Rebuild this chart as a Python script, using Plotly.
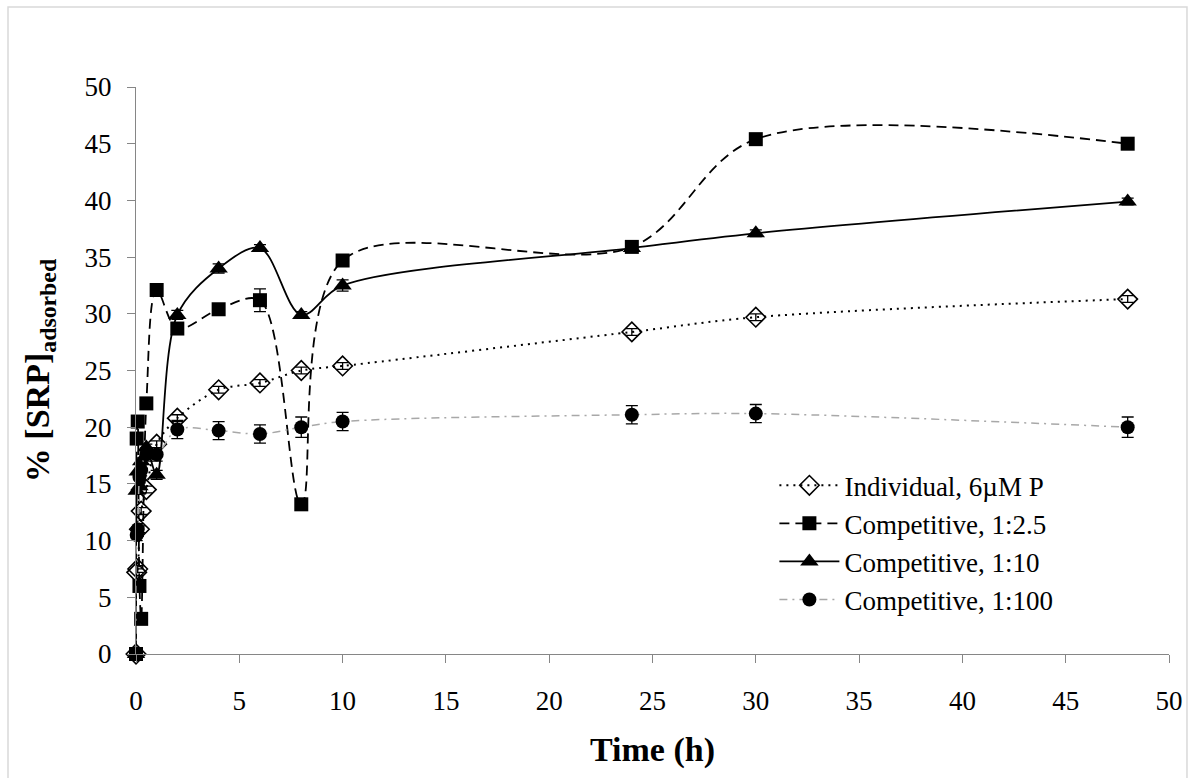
import plotly.graph_objects as go

# Sampling times (h)
time_h = [0, 0.033, 0.083, 0.167, 0.25, 0.5, 1, 2, 4, 6, 8, 10, 24, 30, 48]

# % SRP adsorbed for each treatment
individual_6uM = [0, 7.2, 7.5, 11.0, 12.6, 14.5, 18.5, 20.8, 23.3, 23.9, 25.0, 25.4, 28.4, 29.7, 31.3]
competitive_1_2_5 = [0, 19.0, 20.5, 6.0, 3.1, 22.1, 32.1, 28.7, 30.4, 31.2, 13.2, 34.7, 35.9, 45.4, 45.0]
competitive_1_10 = [0, 14.4, 16.1, 14.8, 17.0, 18.2, 15.8, 29.9, 34.0, 35.8, 29.9, 32.5, 35.8, 37.1, 39.9]
competitive_1_100 = [0, 10.5, 11.0, 15.6, 16.2, 17.6, 17.6, 19.8, 19.7, 19.4, 20.0, 20.5, 21.1, 21.2, 20.0]

# Standard errors
err_individual = [0, 0.3, 0.3, 0.3, 0.3, 0.3, 0.3, 0.3, 0.3, 0.3, 0.3, 0.3, 0.3, 0.3, 0.3]
err_1_2_5 = [0, 0.3, 0.3, 0.3, 0.3, 0.3, 0.5, 0.5, 0.4, 1.0, 0.3, 0.4, 0.4, 0.3, 0.3]
err_1_10 = [0, 0.3, 0.3, 0.3, 0.3, 0.3, 0.4, 0.4, 0.4, 0.3, 0.3, 0.5, 0.3, 0.3, 0.3]
err_1_100 = [0, 0.5, 0.5, 0.5, 0.5, 0.6, 0.6, 0.8, 0.8, 0.8, 0.9, 0.8, 0.8, 0.8, 0.9]

series_names = ["Individual, 6\u00b5M P", "Competitive, 1:2.5", "Competitive, 1:10", "Competitive, 1:100"]

x_ticks = [0, 5, 10, 15, 20, 25, 30, 35, 40, 45, 50]
y_ticks = [0, 5, 10, 15, 20, 25, 30, 35, 40, 45, 50]

FONT = "Liberation Serif, Times New Roman, serif"
AXIS_GREY = "#868686"

styles = [
    dict(y=individual_6uM, err=err_individual, line=dict(color="black", width=2, dash="2px,5px"),
         marker=dict(symbol="diamond-open", size=15, color="black", line=dict(width=1.6, color="black"))),
    dict(y=competitive_1_2_5, err=err_1_2_5, line=dict(color="black", width=1.8, dash="10px,6px"),
         marker=dict(symbol="square", size=14, color="black")),
    dict(y=competitive_1_10, err=err_1_10, line=dict(color="black", width=1.8, dash="solid"),
         marker=dict(symbol="triangle-up", size=16, color="black")),
    dict(y=competitive_1_100, err=err_1_100, line=dict(color="#a8a8a8", width=1.5, dash="8px,5px,2px,5px"),
         marker=dict(symbol="circle", size=14, color="black")),
]

fig = go.Figure()
for name, st in zip(series_names, styles):
    fig.add_trace(go.Scatter(
        x=time_h, y=st["y"], name=name, mode="lines+markers",
        line=dict(shape="spline", smoothing=0.95, **st["line"]),
        marker=st["marker"],
        error_y=dict(type="data", array=st["err"], visible=True, color="black", thickness=1.3, width=6),
        cliponaxis=False,
    ))

fig.update_layout(
    width=1194, height=778,
    paper_bgcolor="white", plot_bgcolor="white",
    margin=dict(l=136, r=25, t=87, b=124),
    font=dict(family=FONT, color="black", size=27),
    showlegend=True,
    legend=dict(
        x=0.618, y=0.34, xanchor="left", yanchor="top",
        bgcolor="rgba(0,0,0,0)", font=dict(family=FONT, size=27, color="black"),
        itemwidth=60, tracegroupgap=0,
    ),
    xaxis=dict(
        range=[0, 50], tickvals=x_ticks, ticktext=[str(v) for v in x_ticks],
        showgrid=False, zeroline=False, showline=True, linecolor=AXIS_GREY, linewidth=1.3,
        ticks="outside", ticklen=8, tickcolor=AXIS_GREY, tickwidth=1.3,
        tickfont=dict(family=FONT, size=27, color="black"), ticklabelstandoff=14,
        title=dict(text="<b>Time (h)</b>", font=dict(family=FONT, size=34, color="black"), standoff=22),
    ),
    yaxis=dict(
        range=[0, 50], tickvals=y_ticks, ticktext=[str(v) for v in y_ticks],
        showgrid=False, zeroline=False, showline=True, linecolor=AXIS_GREY, linewidth=1.3,
        ticks="outside", ticklen=8, tickcolor=AXIS_GREY, tickwidth=1.3,
        tickfont=dict(family=FONT, size=27, color="black"), ticklabelstandoff=10,
        title=dict(text="<b>% [SRP]<sub>adsorbed</sub></b>", font=dict(family=FONT, size=34, color="black"), standoff=24),
    ),
    shapes=[dict(type="rect", xref="paper", yref="paper",
                 x0=-0.1239, x1=1.0174, y0=-0.25, y1=1.1411,
                 line=dict(color="#d9d9d9", width=1.5), fillcolor="rgba(0,0,0,0)", layer="below")],
)

fig.write_html("out.html")
